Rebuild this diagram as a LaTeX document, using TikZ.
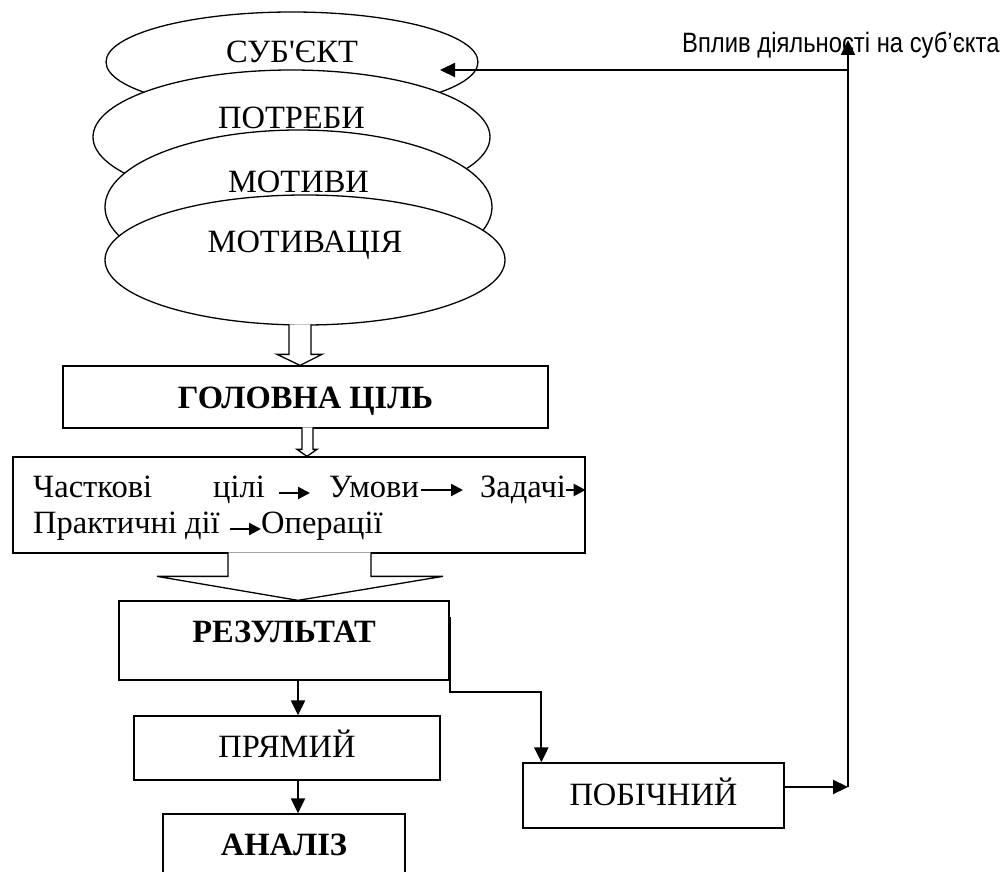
\documentclass[tikz,border=0pt]{standalone}
\usepackage{fontspec}
\setmainfont{Liberation Serif}
\newfontfamily\labelfont[FakeStretch=0.85]{Liberation Sans}
\usetikzlibrary{shapes.geometric,arrows.meta}

\tikzset{
    oval/.style={ellipse, draw, fill=white, line width=1.3pt, inner sep=0pt},
    box/.style={draw, fill=white, line width=1.3pt, inner sep=0pt},
    conn/.style={line width=2.2pt, -{Triangle[length=15pt,width=14pt]}},
    inl/.style={line width=2.2pt, -{Triangle[length=12pt,width=12pt]}},
    hollow/.style={draw, fill=white, line width=1.3pt},
    word/.style={anchor=base west, inner sep=0pt}
}

\begin{document}
\begin{tikzpicture}[x=1pt, y=-1pt, font=\fontsize{32.5}{38}\selectfont]
    \useasboundingbox (0,0) rectangle (1005,872);
    \clip (0,0) rectangle (1005,872);
    % Stack of ovals
    \node[oval, minimum width=372pt, minimum height=100pt, text height=22pt, text depth=20pt] (subj) at (292,62) {СУБ\textquotesingle ЄКТ};
    \node[oval, minimum width=397pt, minimum height=134pt, text height=20pt, text depth=36pt] (needs) at (291.5,137) {ПОТРЕБИ};
    \node[oval, minimum width=387pt, minimum height=154pt, text height=20pt, text depth=48pt] (motives) at (298.5,207) {МОТИВИ};
    \node[oval, minimum width=400pt, minimum height=130pt, text height=20pt, text depth=36pt] (motiv) at (305,260) {МОТИВАЦІЯ};
    % Boxes
    \node[box, minimum width=485pt, text height=42pt, text depth=20pt, font=\fontsize{32.5}{38}\selectfont\bfseries] (goal) at (305.5,397) {ГОЛОВНА ЦІЛЬ};
    \node[box, minimum width=572pt, minimum height=96pt] (steps) at (299,505) {};
    \node[box, minimum width=330pt, text height=41pt, text depth=38pt, font=\fontsize{32.5}{38}\selectfont\bfseries] (res) at (284,640.5) {РЕЗУЛЬТАТ};
    \node[box, minimum width=306pt, text height=41pt, text depth=23pt] (straight) at (287,748) {ПРЯМИЙ};
    \node[box, minimum width=242pt, text height=41pt, text depth=30pt, font=\fontsize{32.5}{38}\selectfont\bfseries] (analysis) at (284,849.5) {АНАЛІЗ};
    \node[box, minimum width=261pt, text height=42pt, text depth=23pt] (side) at (653.5,795.5) {ПОБІЧНИЙ};
    % Words inside the steps box
    \node[word] (w1) at (33,497) {Часткові};
    \node[word] (w2) at (213,497) {цілі};
    \node[word] (w3) at (329,497) {Умови};
    \node[word] (w4) at (480,497) {Задачі};
    \node[word] (w5) at (33,533) {Практичні дії};
    \node[word] (w6) at (261,533) {Операції};
    \draw[inl] ([xshift=14pt,yshift=4pt]w2.base east) -- ([xshift=-19pt,yshift=4pt]w3.base west);
    \draw[inl] ([xshift=2pt,yshift=7pt]w3.base east) -- ([xshift=-17pt,yshift=7pt]w4.base west);
    \draw[inl] ([yshift=7pt]w4.base east) -- ([yshift=7pt]w4.base east -| steps.east);
    \draw[inl] ([xshift=10pt,yshift=4pt]w5.base east) -- ([yshift=4pt]w6.base west);
    % Hollow arrows
    \draw[hollow, shift={(goal.north)}] (-16.5,-41) -- (-16.5,-11) -- (-28.5,-11) -- (-5.5,0) -- (16.5,-11) -- (5.5,-11) -- (5.5,-41);
    \draw[hollow, shift={(steps.north)}] (3,-29) -- (3,-7) -- (-2,-7) -- (8,0) -- (18,-7) -- (14,-7) -- (14,-29);
    \draw[hollow, shift={(res.north)}] (-56,-48) -- (-56,-24) -- (-127,-24) -- (14,0) -- (159,-24) -- (87,-24) -- (87,-48);
    % Result branches
    \draw[conn] ([xshift=14pt]res.south) -- ([xshift=11pt]straight.north);
    \draw[conn] ([xshift=11pt]straight.south) -- ([xshift=14pt]analysis.north);
    \draw[conn] ([yshift=-17pt]res.north east) -- ([yshift=-11pt]res.south east) -| ([xshift=19pt]side.north west);
    % Feedback to the subject
    \coordinate (turn) at (848,787);
    \coordinate (top) at (848,40);
    \coordinate (knee) at (848,70);
    \coordinate (entry) at (440,70);
    \draw[conn] ([yshift=8.5pt]side.east) -- (turn);
    \draw[conn] (turn) -- (top);
    \draw[conn] (knee) -- (entry);
    \node[anchor=base west, inner sep=0pt, font=\labelfont\fontsize{28}{32}\selectfont] (infl) at (682,53) {Вплив діяльності на суб’єкта};
\end{tikzpicture}
\end{document}
